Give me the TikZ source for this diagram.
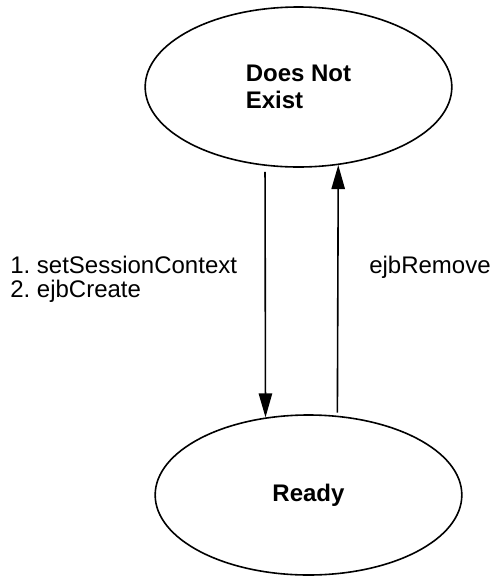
\documentclass[tikz,border=0pt]{standalone}
\usepackage{fontspec}
\setmainfont{Liberation Sans}
\usepackage{tikz}
\usetikzlibrary{arrows.meta}
\usetikzlibrary{shapes.geometric}
\tikzset{st/.style={draw, ellipse, line width=1.2pt, minimum width=230pt, minimum height=120pt, inner sep=0pt, align=left, font=\fontsize{18}{20}\selectfont\bfseries}}
\tikzset{l/.style={inner sep=0pt, align=left, font=\fontsize{18}{18}\selectfont}}
\tikzset{tr/.style={-{Triangle[length=18pt,width=10pt]}, line width=1.2pt}}
\frenchspacing

\begin{document}
\begin{tikzpicture}[x=0.75pt,y=-0.75pt]
        \useasboundingbox (0,0) rectangle (493,576);
        \node[st] (DNE) at (298.5,87) {Does Not\\Exist};
        \node[st] (Ready) at (308.5,495) {Ready};
        \draw[tr, shorten <=4.5pt] (DNE.-113.2) -- (Ready.119.6);
        \draw[tr, shorten <=2.25pt] (Ready.70.1) -- (DNE.-63.6);
        \node[l, anchor=base west] (create) at (10,297) {1. setSessionContext\\2. ejbCreate};
        \node[l, anchor=base west] (remove) at (369,273) {ejbRemove};
      \end{tikzpicture}
\end{document}
